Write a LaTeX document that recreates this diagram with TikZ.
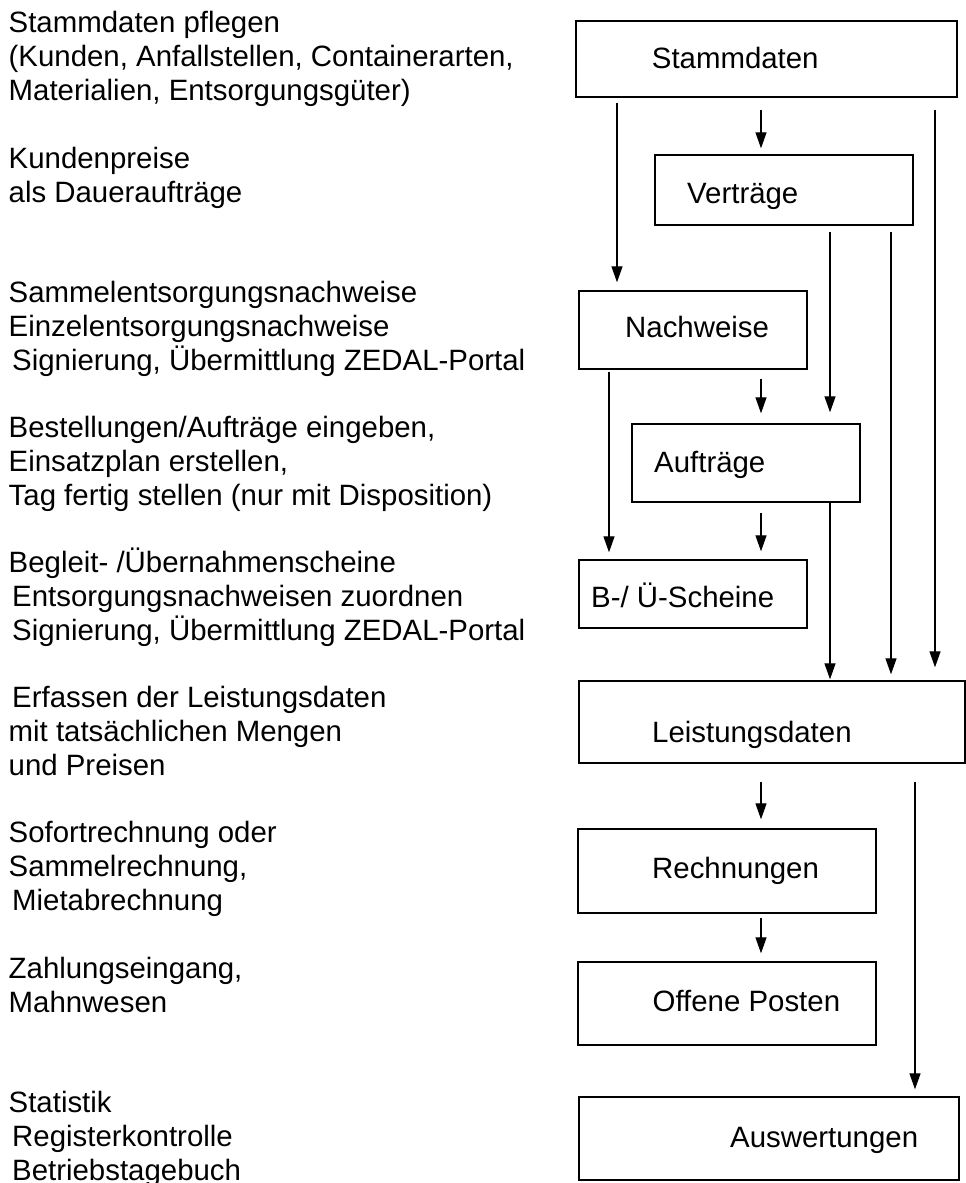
\documentclass[tikz,border=0pt]{standalone}
\usepackage{fontspec}
\setmainfont{Liberation Sans}
\usetikzlibrary{arrows.meta}
\tikzset{
  box/.style={draw, line width=1.4pt, rectangle, inner sep=0pt},
  lbl/.style={anchor=base west, inner sep=0pt},
  txt/.style={anchor=base west, inner sep=0pt, align=left},
  arr/.style={line width=1.3pt, -{Triangle[length=16pt,width=11pt]}}
}
\newcommand{\ein}{\hspace*{3.5pt}}
\begin{document}
\begin{tikzpicture}
[x=1pt, y=-1pt, font=\fontsize{29.4}{33.7}\selectfont]
\useasboundingbox (0,0) rectangle (966,1183);
\node [txt] (t1) at (8.5,100) {Stammdaten pflegen\\(Kunden, Anfallstellen, Containerarten,\\Materialien, Entsorgungsgüter)};
\node [txt] (t2) at (8.5,202) {Kundenpreise\\als Daueraufträge};
\node [txt] (t3) at (8.5,370) {Sammelentsorgungsnachweise\\Einzelentsorgungsnachweise\\\ein Signierung, Übermittlung ZEDAL-Portal};
\node [txt] (t4) at (8.5,505) {Bestellungen/Aufträge eingeben,\\Einsatzplan erstellen,\\Tag fertig stellen (nur mit Disposition)};
\node [txt] (t5) at (8.5,640) {Begleit- /Übernahmenscheine\\\ein Entsorgungsnachweisen zuordnen\\\ein Signierung, Übermittlung ZEDAL-Portal};
\node [txt] (t6) at (8.5,775) {\ein Erfassen der Leistungsdaten\\mit tatsächlichen Mengen\\und Preisen};
\node [txt] (t7) at (8.5,910) {Sofortrechnung oder\\Sammelrechnung,\\\ein Mietabrechnung};
\node [txt] (t8) at (8.5,1012) {Zahlungseingang,\\Mahnwesen};
\node [txt] (t9) at (8.5,1180) {Statistik\\\ein Registerkontrolle\\\ein Betriebstagebuch};
\node [box, minimum width=381, minimum height=76] (stamm) at (766.5,59) {};
\node [box, minimum width=258, minimum height=70] (vertr) at (784,190) {};
\node [box, minimum width=228, minimum height=78] (nachw) at (693,330) {};
\node [box, minimum width=228, minimum height=78] (auftr) at (746,463) {};
\node [box, minimum width=228, minimum height=68] (bue) at (693,594) {};
\node [box, minimum width=386, minimum height=82] (leist) at (772,722) {};
\node [box, minimum width=298, minimum height=84] (rechn) at (727,871) {};
\node [box, minimum width=298, minimum height=83] (offen) at (727,1003.5) {};
\node [box, minimum width=380, minimum height=83] (ausw) at (769,1138.5) {};
\node [lbl] (stammtxt) at (651.7,68) {Stammdaten};
\node [lbl] (vertrtxt) at (687,203) {Verträge};
\node [lbl] (nachwtxt) at (625,337) {Nachweise};
\node [lbl] (auftrtxt) at (654,472) {Aufträge};
\node [lbl] (buetxt) at (591,607) {B-/ Ü-Scheine};
\node [lbl] (leisttxt) at (652,742) {Leistungsdaten};
\node [lbl] (rechntxt) at (652,878) {Rechnungen};
\node [lbl] (offentxt) at (652.5,1011) {Offene Posten};
\node [lbl] (auswtxt) at (730,1147) {Auswertungen};
\coordinate (colA) at (609,0);
\coordinate (colB) at (617,0);
\coordinate (colC) at (761,0);
\coordinate (colD) at (830,0);
\coordinate (colE) at (891,0);
\coordinate (colF) at (915,0);
\coordinate (colG) at (935,0);
\draw [arr, shorten <=5pt, shorten >=8pt] (stamm.south -| colB) -- (nachw.north -| colB);
\draw [arr, shorten <=12pt, shorten >=6pt] (stamm.south -| colC) -- (vertr.north -| colC);
\draw [arr, shorten <=12pt, shorten >=13pt] (stamm.south -| colG) -- (leist.north -| colG);
\draw [arr, shorten <=6pt, shorten >=11pt] (vertr.south -| colD) -- (auftr.north -| colD);
\draw [arr, shorten <=6pt, shorten >=6pt] (vertr.south -| colE) -- (leist.north -| colE);
\draw [arr, shorten <=2pt, shorten >=7pt] (nachw.south -| colA) -- (bue.north -| colA);
\draw [arr, shorten <=9pt, shorten >=10pt] (nachw.south -| colC) -- (auftr.north -| colC);
\draw [arr, shorten <=10pt, shorten >=8pt] (auftr.south -| colC) -- (bue.north -| colC);
\draw [arr, shorten >=1pt] (auftr.south -| colD) -- (leist.north -| colD);
\draw [arr, shorten <=18pt, shorten >=9pt] (leist.south -| colC) -- (rechn.north -| colC);
\draw [arr, shorten <=18pt, shorten >=7pt] (leist.south -| colF) -- (ausw.north -| colF);
\draw [arr, shorten <=4pt, shorten >=8pt] (rechn.south -| colC) -- (offen.north -| colC);
\end{tikzpicture}
\end{document}
